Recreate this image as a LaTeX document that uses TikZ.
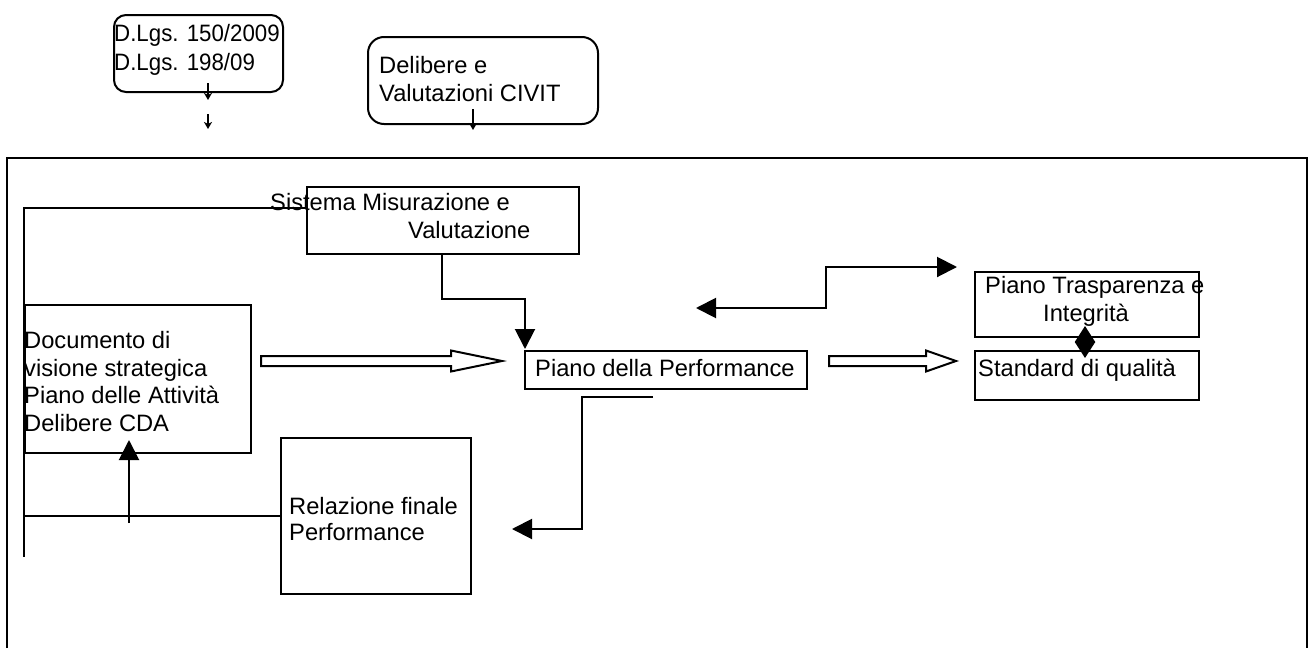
\documentclass[tikz,border=0pt]{standalone}
\usepackage{fontspec}
\setmainfont{Liberation Sans}
\usetikzlibrary{arrows.meta,fit,calc}
\begin{document}
\begin{tikzpicture}[x=1pt,y=-1pt,
  box/.style={draw,line width=2pt,inner sep=0pt,outer sep=0pt},
  rbox/.style={box,rounded corners=12pt},
  txt/.style={anchor=base west,inner sep=0pt,font=\fontsize{23.7}{27.5}\selectfont},
  ln/.style={line width=2pt},
  arr/.style={ln,-{Triangle[length=20pt,width=20pt]}},
  darr/.style={ln,{Triangle[length=20pt,width=20pt]}-{Triangle[length=20pt,width=20pt]}},
  small/.style={line width=1.2pt,-{Stealth[length=7pt,width=8pt,inset=2pt]}},
  hollow/.style={draw,line width=2pt,fill=white,line join=miter}]
\useasboundingbox (0,0) rectangle (1312,648);
% outer frame (open at bottom)
\draw[ln] (7,648) -- (7,158) -- (1307,158) -- (1307,648);
% boxes
\node[rbox,fit={(114,15) (283,92)}] (dlgs) {};
\node[rbox,rounded corners=16pt,fit={(368,37) (598,124)}] (civit) {};
\node[box,fit={(307,187) (579,254)}] (sis) {};
\node[box,fit={(25,305) (251,453)}] (doc) {};
\node[box,fit={(525,351) (807,389)}] (pp) {};
\node[box,fit={(975,272) (1199,337)}] (trasp) {};
\node[box,fit={(975,351) (1199,400)}] (std) {};
\node[box,fit={(281,438) (471,594)}] (rel) {};
% texts
\node[txt] (t1) at (114,41.5) {\scalebox{0.94}[1]{D.Lgs. 150/2009}};
\node[txt] (t2) at (114,70.5) {\scalebox{0.94}[1]{D.Lgs. 198/09}};
\node[txt] (t3) at (379,73.5) {Delibere e};
\node[txt] (t4) at (379,101.5) {Valutazioni CIVIT};
\node[txt] (t5) at (270,210.5) {Sistema Misurazione e};
\node[txt] (t6) at (408,238.5) {Valutazione};
\node[txt] (t7) at (24,348.5) {Documento di};
\node[txt] (t8) at (24,376) {visione strategica};
\node[txt] (t9) at (24,403.5) {Piano delle Attività};
\node[txt] (t10) at (24,431) {Delibere CDA};
\node[txt] (t11) at (535,376) {Piano della Performance};
\node[txt] (t12) at (985,293.5) {Piano Trasparenza e};
\node[txt] (t13) at (1043,321.5) {Integrità};
\node[txt] (t14) at (978,376.5) {Standard di qualità};
\node[txt] (t15) at (289,514.5) {Relazione finale};
\node[txt] (t16) at (289,540.5) {Performance};
% small arrows
\coordinate (s1a) at (208,83);  \coordinate (s1b) at (208,100);
\coordinate (s2a) at (208,114); \coordinate (s2b) at (208,129);
\coordinate (s3a) at (473,109); \coordinate (s3b) at (473,130);
\draw[small] (s1a) -- (s1b);
\draw[small] (s2a) -- (s2b);
\draw[small] (s3a) -- (s3b);
% left feedback lines
\coordinate (lt) at (24,208);
\coordinate (lb) at (24,557);
\draw[ln] (lt -| sis.west) -- (lt) -- (lb);
\draw[ln] (lb |- rel.west) -- (rel.west);
\coordinate (upa) at (129,523);
\coordinate (upb) at (129,440);
\draw[arr] (upa) -- (upb);
% Sistema -> Piano della Performance
\coordinate (sp1) at (442,299);
\draw[arr] (sp1 |- sis.south) -- (sp1) -| ($(pp.north west)+(0,-2)$);
% double bent arrow
\coordinate (d1) at (696,308);
\coordinate (d2) at (826,267);
\coordinate (d3) at (957,267);
\draw[darr] (d1) -| (d2) -- (d3);
% diamond double arrow between Trasparenza and Standard
\coordinate (dm1) at (1085,326);
\coordinate (dm2) at (1085,358);
\draw[ln,{Triangle[length=16pt,width=20pt]}-{Triangle[length=16pt,width=20pt]}] (dm1) -- (dm2);
% Piano -> Relazione
\coordinate (pr1) at (653,397);
\coordinate (pr2) at (582,529);
\coordinate (pr3) at (512,529);
\draw[arr] (pr1) -| (pr2) -- (pr3);
% hollow arrows
\draw[hollow] (261,356) -- (451,356) -- (451,350.5) -- (502,361) -- (451,371.5) -- (451,366) -- (261,366) -- cycle;
\draw[hollow] (829,356) -- (926,356) -- (926,350.5) -- (956,361) -- (926,371.5) -- (926,366) -- (829,366) -- cycle;
\end{tikzpicture}
\end{document}
